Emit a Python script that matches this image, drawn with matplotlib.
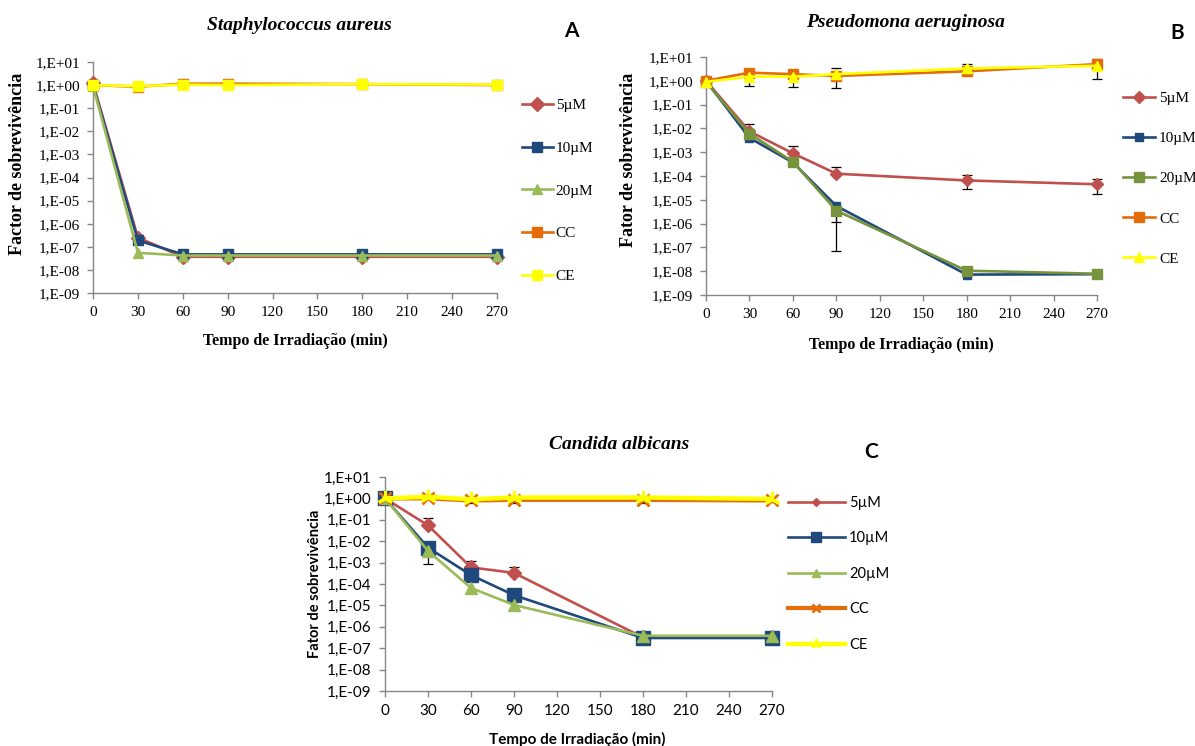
import numpy as np
import matplotlib
matplotlib.use('Agg')
import matplotlib.pyplot as plt
from matplotlib.ticker import FixedLocator, FuncFormatter, NullLocator

nan = np.nan

# tempos de irradiação (min) e eixos
tempo = [0, 30, 60, 90, 180, 270]
x_ticks = [0, 30, 60, 90, 120, 150, 180, 210, 240, 270]
y_exps = list(range(-9, 2))
series_names = ['5µM', '10µM', '20µM', 'CC', 'CE']

# A - Staphylococcus aureus
sa_5 = [1.2, 2.5e-7, 3.7e-8, 3.7e-8, 3.7e-8, 3.7e-8]
sa_10 = [1.0, 1.9e-7, 4.7e-8, 4.7e-8, 4.7e-8, 4.7e-8]
sa_20 = [0.9, 5.5e-8, 4.2e-8, 4.2e-8, 4.2e-8, 4.2e-8]
sa_cc = [1.0, 0.85, 1.15, 1.15, 1.1, 1.0]
sa_ce = [1.0, 0.9, 1.05, 1.0, 1.1, 1.05]
sa_10_lo = [nan, 1.3e-7, nan, nan, nan, nan]

# B - Pseudomona aeruginosa
pa_5 = [1.0, 7.5e-3, 9.0e-4, 1.25e-4, 6.5e-5, 4.5e-5]
pa_10 = [1.0, 4.0e-3, 3.7e-4, 5.5e-6, 7.2e-9, 7.5e-9]
pa_20 = [0.9, 6.0e-3, 4.0e-4, 3.5e-6, 1.05e-8, 7.8e-9]
pa_cc = [1.0, 2.2, 1.9, 1.6, 2.5, 5.0]
pa_ce = [0.9, 1.5, 1.5, 1.9, 3.3, 4.3]
pa_5_lo = [nan, nan, nan, nan, 2.8e-5, 1.8e-5]
pa_5_hi = [nan, 1.5e-2, 1.8e-3, 2.3e-4, 1.05e-4, 7.5e-5]
pa_10_lo = [nan, nan, nan, 1.2e-6, nan, nan]
pa_20_lo = [nan, nan, nan, 7.0e-8, nan, nan]
pa_ce_lo = [nan, 0.6, 0.55, 0.5, nan, 1.2]
pa_ce_hi = [nan, nan, nan, 3.3, 5.0, 8.0]

# C - Candida albicans
ca_5 = [1.0, 5.5e-2, 6.0e-4, 3.3e-4, 3.2e-7, 3.2e-7]
ca_10 = [1.0, 5.0e-3, 2.6e-4, 3.0e-5, 3.0e-7, 3.0e-7]
ca_20 = [1.0, 3.5e-3, 6.5e-5, 1.05e-5, 3.8e-7, 3.8e-7]
ca_cc = [1.0, 1.0, 0.8, 0.85, 0.85, 0.8]
ca_ce = [1.0, 1.2, 0.9, 1.1, 1.1, 0.95]
ca_5_hi = [nan, 0.12, 1.15e-3, 6.5e-4, nan, nan]
ca_10_lo = [nan, 9.0e-4, nan, nan, nan, nan]
ca_ce_lo = [nan, nan, 0.6, 0.6, 0.6, 0.65]

# cores estilo Excel
vermelho = '#C0504D'
azul = '#1F497D'
verde = '#9BBB59'
verde_esc = '#77933C'
laranja = '#E46C0A'
amarelo = '#FFFF00'
eixo_cor = '#868686'

W, H = 1195, 746
fig = plt.figure(figsize=(W / 100, H / 100), dpi=100)


def px_rect(l, t, r, b):
    return [l / W, 1 - b / H, (r - l) / W, (b - t) / H]


def fmt_exp(v, pos):
    e = int(round(np.log10(v)))
    return '1,E{:+03d}'.format(e)


def barras_erro(ax, y, lo, hi):
    # barras pretas com traço só nos lados que existem
    y = np.array(y)
    lo = np.full(len(y), nan) if lo is None else np.array(lo)
    hi = np.full(len(y), nan) if hi is None else np.array(hi)
    x = np.array(tempo)
    baixo = np.where(np.isfinite(lo), lo, y)
    cima = np.where(np.isfinite(hi), hi, y)
    ax.vlines(x, baixo, cima, color='black', lw=0.9, zorder=2, clip_on=False)
    for lim in (lo, hi):
        ok = np.isfinite(lim)
        ax.plot(x[ok], lim[ok], ls='none', marker='_', ms=7, mew=0.9, color='black',
                zorder=2, clip_on=False)


def painel(rect, titulo, titulo_xy, ylabel, ylab_xy, xlab_xy, dados, erros, estilos,
           fonte, tamanhos, leg_xy, leg_kw):
    t_tick, t_ylab, t_xlab, t_leg = tamanhos
    ax = fig.add_axes(rect)
    ax.set_yscale('log')
    handles = []
    for nome, y, st in zip(series_names, dados, estilos):
        ln, = ax.plot(tempo, y, color=st['c'], lw=st.get('lw', 1.9), marker=st['m'],
                      ms=st['ms'], mfc=st['c'], mec=st['c'], mew=st.get('mew', 1),
                      clip_on=False, label=nome, zorder=3)
        handles.append(ln)
        if nome in erros:
            barras_erro(ax, y, *erros[nome])
    ax.set_xlim(0, 270)
    ax.set_ylim(1e-9, 1e1)
    ax.xaxis.set_major_locator(FixedLocator(x_ticks))
    ax.yaxis.set_major_locator(FixedLocator([10.0 ** e for e in y_exps]))
    ax.yaxis.set_minor_locator(NullLocator())
    ax.yaxis.set_major_formatter(FuncFormatter(fmt_exp))
    for s in ['top', 'right']:
        ax.spines[s].set_visible(False)
    for s in ['left', 'bottom']:
        ax.spines[s].set_color(eixo_cor)
        ax.spines[s].set_linewidth(1)
    ax.tick_params(direction='out', length=4.5, width=1, color=eixo_cor, pad=5,
                   labelsize=t_tick, labelfontfamily=fonte)
    ax.set_ylabel(ylabel, fontsize=t_ylab, fontweight='bold', family=fonte)
    ax.yaxis.set_label_coords(*ylab_xy)
    ax.set_xlabel('Tempo de Irradiação (min)', fontsize=t_xlab, fontweight='bold',
                  family=fonte)
    ax.xaxis.set_label_coords(*xlab_xy)
    ax.text(titulo_xy[0], titulo_xy[1], titulo, transform=ax.transAxes, ha='center',
            va='center', fontsize=14, fontweight='bold', style='italic',
            family='Liberation Serif')
    ax.legend(handles, series_names, loc='upper left', bbox_to_anchor=leg_xy,
              bbox_transform=fig.transFigure, frameon=False, borderpad=0,
              borderaxespad=0, prop={'family': fonte, 'size': t_leg}, **leg_kw)
    return ax


# A
est_a = [dict(c=vermelho, m='D', ms=7), dict(c=azul, m='s', ms=7),
         dict(c=verde, m='^', ms=7.5), dict(c=laranja, m='s', ms=7),
         dict(c=amarelo, m='s', ms=7)]
painel(px_rect(93, 62, 497, 293), 'Staphylococcus aureus', (0.512, 1.16),
       'Factor de sobrevivência', (-0.166, 0.558), (0.5, -0.173),
       [sa_5, sa_10, sa_20, sa_cc, sa_ce], {'10µM': (sa_10_lo, None)}, est_a,
       'Liberation Serif', (11, 13, 11.5, 11), (522 / W, 1 - 98.5 / H),
       dict(handlelength=2.0, handletextpad=0.2, labelspacing=1.9))

# B
est_b = [dict(c=vermelho, m='D', ms=6), dict(c=azul, m='s', ms=6),
         dict(c=verde_esc, m='s', ms=6.5), dict(c=laranja, m='s', ms=6.5),
         dict(c=amarelo, m='^', ms=7)]
painel(px_rect(706, 57, 1097, 295), 'Pseudomona aeruginosa', (0.509, 1.147),
       'Fator de sobrevivência', (-0.176, 0.567), (0.5, -0.176),
       [pa_5, pa_10, pa_20, pa_cc, pa_ce],
       {'5µM': (pa_5_lo, pa_5_hi), '10µM': (pa_10_lo, None), '20µM': (pa_20_lo, None),
        'CE': (pa_ce_lo, pa_ce_hi)}, est_b,
       'Liberation Serif', (11, 13, 11.5, 11), (1123 / W, 1 - 91.5 / H),
       dict(handlelength=2.1, handletextpad=0.25, labelspacing=1.73))

# C
est_c = [dict(c=vermelho, m='D', ms=7), dict(c=azul, m='s', ms=10),
         dict(c=verde, m='^', ms=9), dict(c=laranja, m='x', ms=8, mew=2, lw=3),
         dict(c=amarelo, m=(3, 2, 0), ms=11, mew=2.2, lw=3.2)]
painel(px_rect(385, 477, 772, 691), 'Candida albicans', (0.605, 1.15),
       'Fator de sobrevivência', (-0.163, 0.5), (0.496, -0.19),
       [ca_5, ca_10, ca_20, ca_cc, ca_ce],
       {'5µM': (None, ca_5_hi), '10µM': (ca_10_lo, None), 'CE': (ca_ce_lo, None)}, est_c,
       'Lato', (11, 10.5, 11, 10.5), (788 / W, 1 - 496 / H),
       dict(handlelength=3.9, handletextpad=0.3, labelspacing=1.47, markerscale=0.65))

# letras dos painéis
for letra, (lx, ly) in zip(['A', 'B', 'C'], [(571, 31), (1177, 33), (871, 452)]):
    fig.text(lx / W, 1 - ly / H, letra, ha='center', va='center', fontsize=15,
             fontweight='bold', family='Lato')

fig.savefig('out.png', dpi=100)
